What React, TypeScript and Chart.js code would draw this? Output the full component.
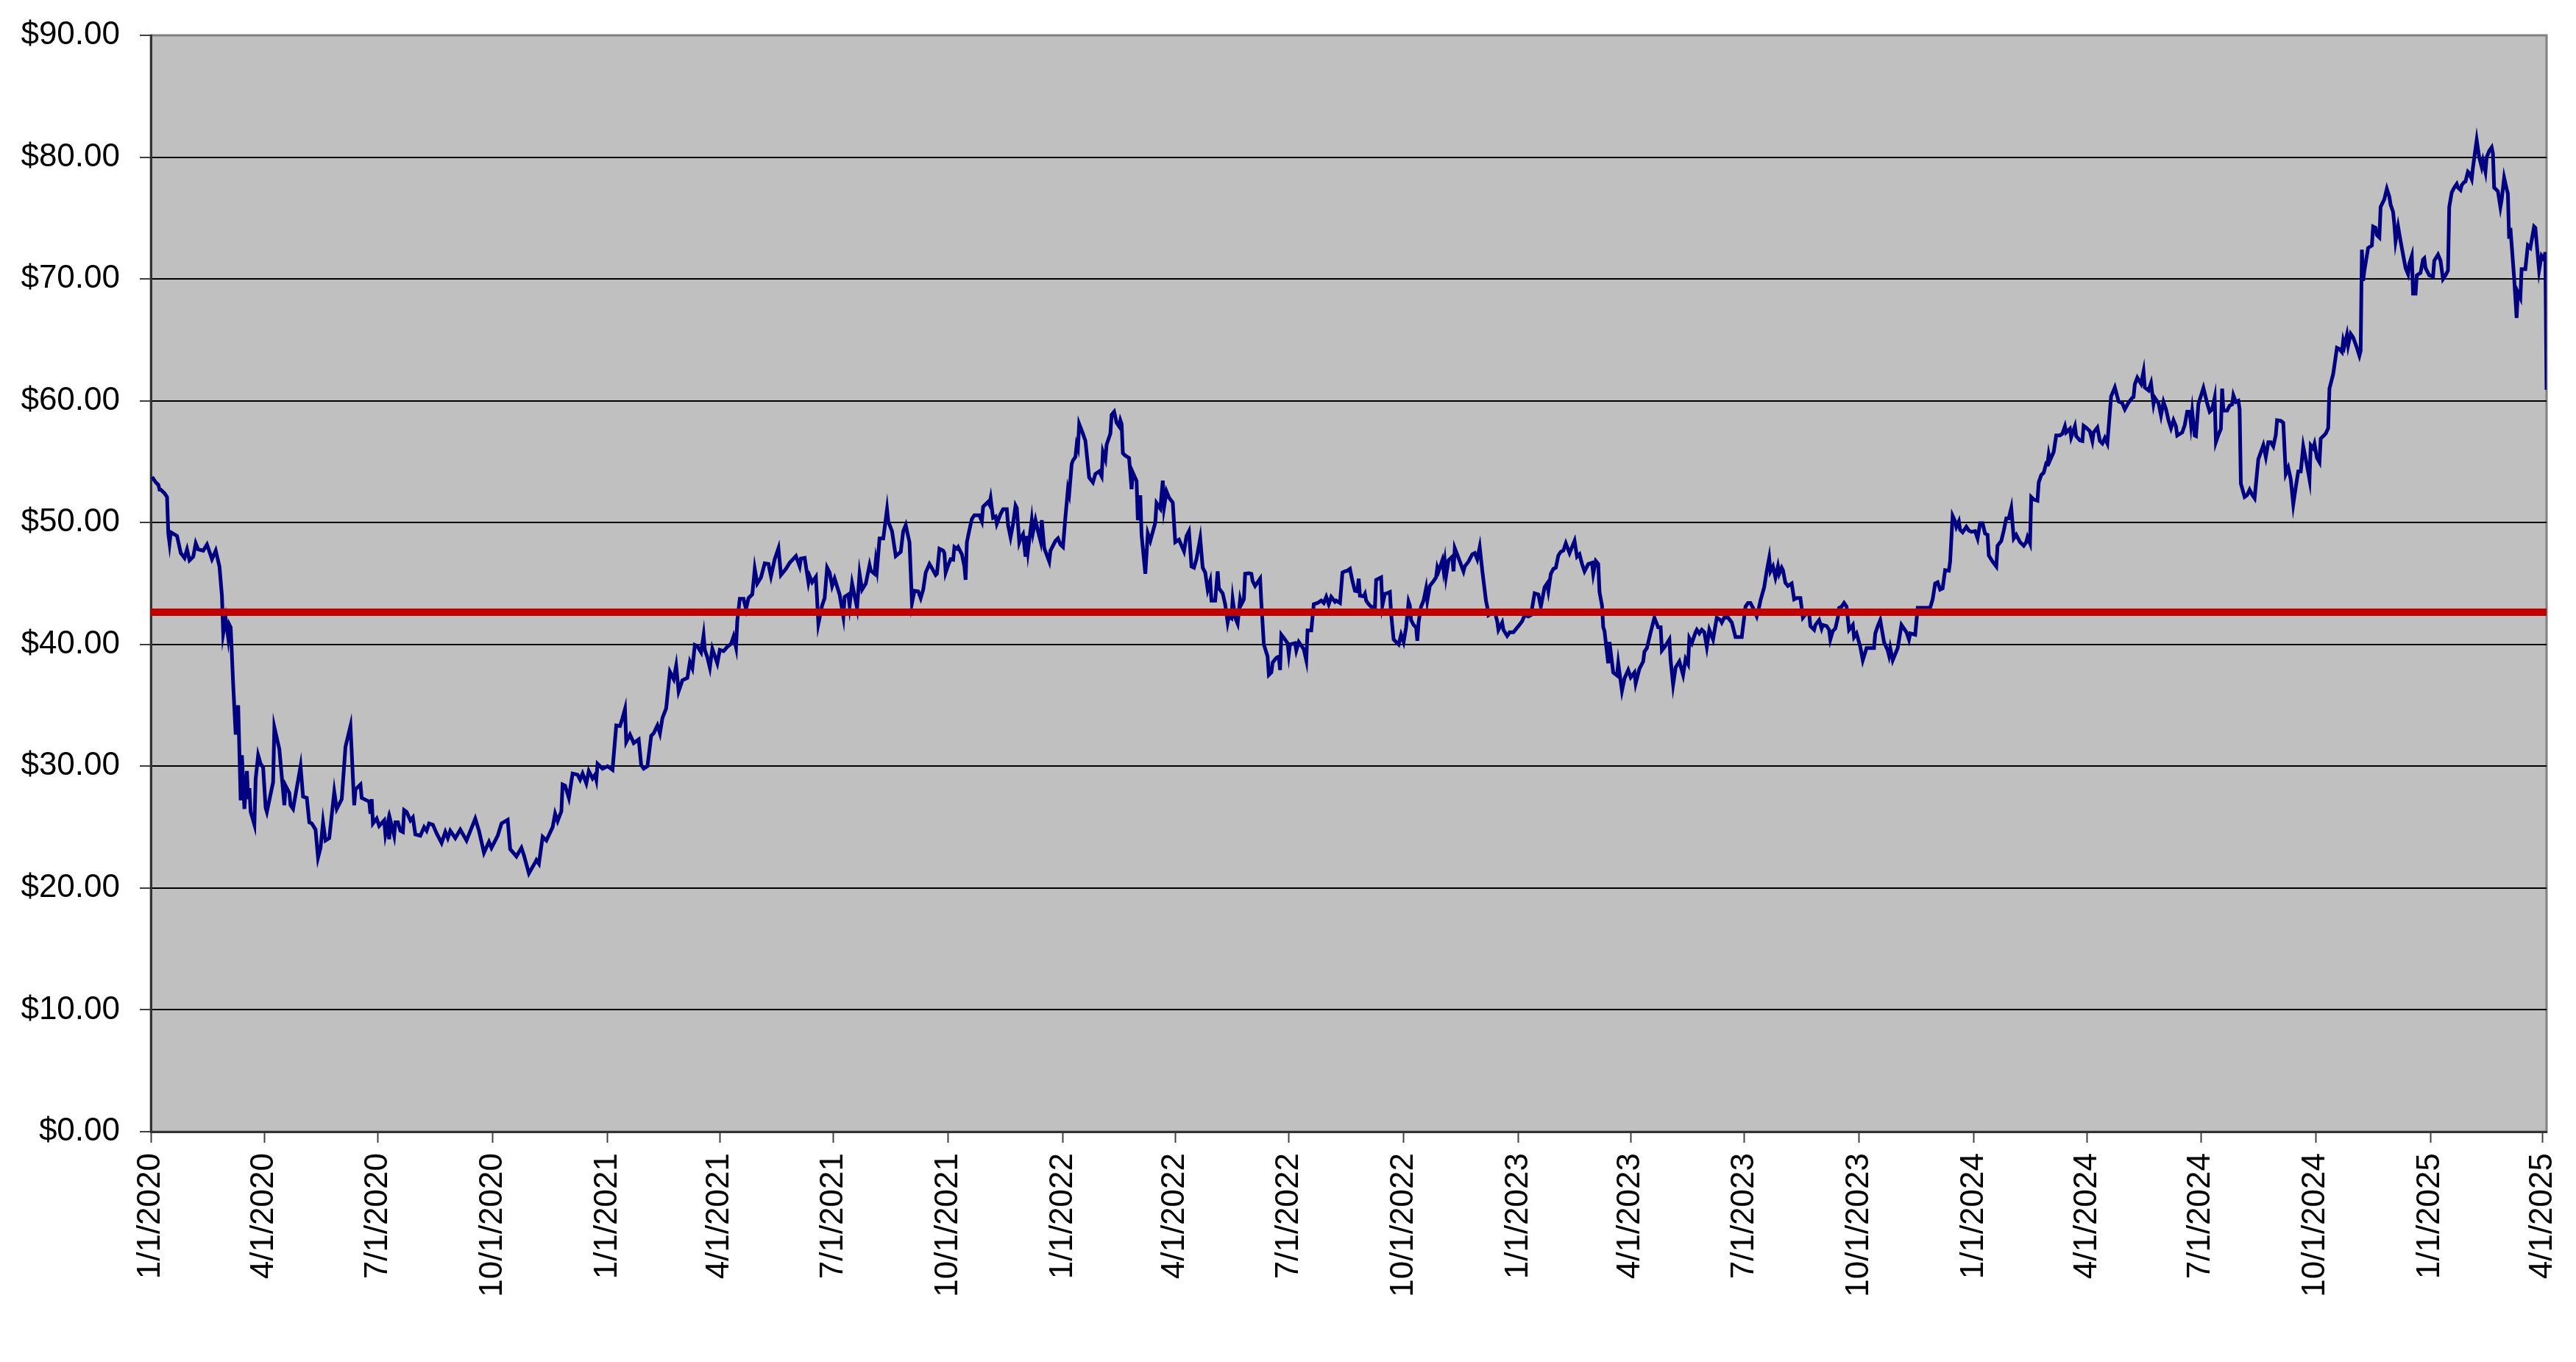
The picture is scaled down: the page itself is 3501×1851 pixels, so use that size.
import { useEffect, useRef } from 'react';
import { Chart, registerables } from 'chart.js';

Chart.register(...registerables);

const START_DATE = '1/1/2020';
const END_DATE = '4/4/2025';

const X_TICK_LABELS = [
  '1/1/2020', '4/1/2020', '7/1/2020', '10/1/2020',
  '1/1/2021', '4/1/2021', '7/1/2021', '10/1/2021',
  '1/1/2022', '4/1/2022', '7/1/2022', '10/1/2022',
  '1/1/2023', '4/1/2023', '7/1/2023', '10/1/2023',
  '1/1/2024', '4/1/2024', '7/1/2024', '10/1/2024',
  '1/1/2025', '4/1/2025',
];

const Y_MIN = 0;
const Y_MAX = 90;
const Y_STEP = 10;

const AVERAGE_PRICE = 42.65;

// [day since START_DATE, closing price]
const PRICES_2020: [number, number][] = [
  [1,53.75],[4,53.3],[6,53.1],[7,52.7],[8,52.7],[11,52.4],[13,52.1],[14,49.1],[15,48.3],[16,49.2],[21,48.9],[24,47.5],[27,47.1],[29,47.8],[31,46.9],[34,47.2],[36,48.3],[38,47.8],[42,47.7],[45,48.2],[49,47.0],[52,47.7],[55,46.4],[57,43.95],[58,40.9],[60,42.1],[62,40.55],[63,41.6],[64,41.4],[66,36.7],[68,32.6],[70,35.0],[72,27.2],[73,30.9],[75,26.5],[77,29.6],[78,27.3],[79,28.2],[80,26.25],[83,25.2],[84,28.95],[86,30.9],[88,30.2],[90,29.9],[92,26.6],[93,26.25],[98,28.7],[99,33.2],[103,31.4],[107,26.8],[108,28.4],[111,27.8],[112,26.8],[114,26.5],[120,30.0],[122,27.5],[125,27.4],[127,25.4],[129,25.3],[132,24.8],[134,22.5],[136,23.3],[138,25.4],[140,23.9],[143,24.1],[147,27.9],[149,26.5],[153,27.3],[156,31.6],[160,33.3],[163,26.8],[164,28.1],[168,28.5],[169,27.4],[175,27.1],[176,26.1],[177,27.3],[178,25.3],[181,25.7],[183,25.1],[187,25.55],[188,24.4],[190,25.4],[191,24.0],[192,25.55],[195,24.3],[196,25.4],[198,25.4],[200,24.7],[202,24.6],[203,26.4],[205,26.25],[208,25.55],[210,25.8],[212,24.4],[216,24.3],[219,25.0],[221,24.7],[223,25.3],[226,25.2],[229,24.5],[233,23.7],[236,24.6],[238,24.1],[240,24.7],[244,24.1],[248,24.8],[253,23.9],[260,25.7],[263,24.7],[267,22.9],[271,23.8],[273,23.3],[278,24.3],[281,25.3],[286,25.6],[288,23.2],[293,22.6],[297,23.3],[299,22.7],[303,21.2],[308,22.1],[309,22.3],[311,22.0],[314,24.2],[317,23.9],[322,25.0],[324,26.1],[326,25.5],[329,26.3],[330,28.5],[332,28.4],[335,27.4],[338,29.4],[342,29.3],[344,28.9],[346,29.4],[349,28.6],[351,29.6],[354,29.0],[356,29.3],[357,28.9],[358,30.2],[362,29.8],
];

const PRICES_2021: [number, number][] = [
  [366,30.0],[370,29.7],[373,33.35],[376,33.3],[378,33.95],[380,34.7],[381,32.0],[384,32.6],[387,31.9],[391,32.2],[393,30.1],[395,29.8],[398,30.0],[401,32.5],[403,32.7],[406,33.35],[408,32.7],[410,33.95],[413,34.75],[415,36.75],[416,37.75],[419,37.15],[421,38.25],[423,36.15],[426,37.05],[430,37.25],[432,38.55],[434,38.05],[436,39.95],[438,39.85],[441,39.35],[443,40.75],[444,39.55],[446,38.95],[448,38.1],[450,39.65],[454,38.45],[456,39.55],[459,39.45],[462,39.8],[465,40.05],[467,40.65],[469,39.75],[470,41.95],[472,43.75],[475,43.75],[477,42.9],[479,43.8],[482,44.1],[483,45.1],[484,46.2],[486,45.0],[489,45.5],[492,46.65],[495,46.6],[497,45.6],[500,47.0],[503,47.9],[505,45.7],[509,46.2],[512,46.7],[517,47.25],[520,46.4],[521,47.05],[524,47.1],[527,45.1],[528,45.6],[530,45.1],[533,45.55],[535,41.7],[538,43.2],[540,43.8],[542,46.3],[544,45.9],[546,44.8],[548,45.4],[552,44.1],[555,42.3],[556,43.9],[559,44.1],[560,43.2],[562,45.0],[564,44.0],[566,43.0],[568,45.8],[570,44.5],[573,45.0],[576,46.5],[577,46.05],[580,45.8],[581,46.85],[582,46.2],[584,48.7],[587,48.7],[590,51.1],[591,50.1],[594,49.3],[597,47.25],[601,47.6],[603,49.3],[605,49.8],[606,49.3],[608,48.4],[610,43.4],[612,44.4],[615,44.35],[617,43.8],[619,44.5],[621,45.9],[624,46.6],[626,46.25],[629,45.7],[630,45.8],[632,47.85],[635,47.7],[636,47.5],[637,45.9],[639,46.5],[641,47.0],[643,46.95],[644,48.0],[646,47.85],[647,48.0],[650,47.4],[652,46.4],[653,45.3],[654,48.4],[656,49.4],[658,50.3],[660,50.6],[664,50.6],[666,50.1],[667,51.3],[669,51.5],[671,51.7],[672,51.5],[673,52.0],[675,50.4],[677,50.5],[678,49.9],[681,50.7],[683,51.1],[686,51.1],[687,49.8],[689,48.8],[691,49.9],[693,51.4],[694,51.2],[696,48.4],[697,48.7],[699,49.05],[701,47.2],[702,48.9],[703,47.7],[706,50.2],[707,49.2],[709,50.2],[711,49.3],[713,48.5],[714,50.2],[716,47.9],[720,46.8],[721,47.7],[725,48.5],[727,48.7],[729,48.2],
];

const PRICES_2022: [number, number][] = [
  [731,48.0],[733,50.5],[735,52.75],[736,52.35],[738,54.8],[739,55.1],[741,55.4],[742,56.4],[743,56.1],[744,58.1],[747,57.3],[749,56.7],[752,53.7],[755,53.3],[757,54.0],[760,54.2],[762,53.8],[763,55.8],[765,55.2],[766,56.4],[769,57.3],[770,58.85],[772,59.1],[774,58.2],[776,57.9],[777,58.4],[778,58.1],[779,55.7],[781,55.5],[784,55.3],[786,52.75],[787,54.1],[790,53.4],[791,50.2],[793,52.25],[794,49.0],[797,45.8],[799,49.1],[801,48.5],[805,50.0],[806,51.6],[809,51.15],[811,53.45],[812,51.25],[814,52.55],[816,52.05],[819,51.65],[821,48.4],[824,48.6],[828,47.65],[830,48.9],[832,49.3],[834,46.4],[836,46.3],[838,47.0],[841,48.7],[843,46.3],[845,45.9],[846,45.2],[847,44.5],[849,45.2],[850,43.6],[853,43.6],[855,46.0],[856,44.6],[859,44.2],[861,43.3],[863,41.8],[864,42.3],[866,42.15],[867,43.7],[869,42.2],[871,41.7],[873,43.7],[874,43.3],[876,43.7],[877,45.8],[880,45.85],[882,45.8],[883,45.2],[885,44.8],[887,45.1],[889,45.4],[890,43.4],[892,40.0],[895,39.0],[896,37.5],[898,37.7],[899,38.5],[902,38.9],[904,39.0],[905,37.9],[906,40.8],[909,40.4],[911,40.1],[912,39.2],[913,40.0],[917,40.1],[918,39.5],[920,40.2],[924,39.6],[926,38.7],[927,41.15],[930,41.15],[932,43.3],[935,43.4],[938,43.6],[940,43.4],[942,43.9],[944,43.3],[946,43.9],[949,43.5],[950,43.6],[953,43.4],[955,45.9],[957,46.0],[959,46.05],[961,46.2],[963,45.2],[965,44.4],[967,44.35],[968,45.4],[969,44.0],[972,43.95],[973,44.15],[974,43.6],[976,43.3],[978,43.1],[981,43.0],[982,45.3],[986,45.5],[987,43.2],[989,44.15],[991,44.2],[993,44.3],[994,42.5],[996,40.4],[1000,40.0],[1002,40.8],[1004,40.2],[1006,41.4],[1008,43.5],[1009,43.2],[1010,42.0],[1012,41.6],[1014,41.4],[1015,40.3],[1016,41.8],[1018,43.1],[1020,43.6],[1022,44.6],[1023,43.6],[1025,44.8],[1028,45.2],[1030,45.5],[1031,46.3],[1032,46.0],[1035,46.9],[1036,46.1],[1037,46.8],[1038,45.6],[1040,46.9],[1043,47.2],[1044,46.0],[1045,47.9],[1048,47.1],[1052,46.0],[1053,46.4],[1056,46.8],[1059,47.4],[1061,47.5],[1063,47.0],[1065,48.0],[1067,46.1],[1070,43.6],[1071,43.1],[1072,42.4],[1075,42.6],[1077,42.7],[1079,41.9],[1080,41.2],[1083,41.8],[1084,41.2],[1087,40.7],[1089,41.0],[1092,41.0],
];

const PRICES_2023: [number, number][] = [
  [1096,41.5],[1099,41.9],[1101,42.4],[1104,42.3],[1106,42.4],[1109,44.2],[1112,44.1],[1114,43.1],[1117,44.7],[1119,45.0],[1120,44.4],[1122,45.8],[1124,46.2],[1126,46.3],[1128,47.3],[1130,47.6],[1132,47.7],[1134,48.3],[1137,47.5],[1139,48.0],[1141,48.5],[1143,47.2],[1145,47.4],[1147,46.6],[1149,46.0],[1152,46.6],[1155,46.7],[1156,45.8],[1158,46.85],[1160,46.6],[1161,44.3],[1163,43.2],[1164,41.4],[1165,41.1],[1168,38.45],[1169,40.2],[1172,37.7],[1175,37.45],[1176,38.45],[1179,36.2],[1181,37.2],[1184,37.9],[1186,37.3],[1189,37.7],[1190,36.8],[1193,38.0],[1196,38.6],[1197,39.4],[1199,39.7],[1202,41.0],[1205,42.2],[1208,41.4],[1210,41.4],[1211,39.5],[1214,39.9],[1217,40.4],[1218,38.7],[1220,36.7],[1222,38.1],[1225,38.6],[1228,37.5],[1230,38.8],[1232,38.4],[1233,40.5],[1235,40.1],[1238,41.0],[1239,41.2],[1241,40.9],[1243,41.2],[1245,41.0],[1247,39.8],[1249,41.2],[1252,40.4],[1255,42.2],[1258,42.0],[1259,41.8],[1261,42.2],[1264,42.2],[1267,41.8],[1270,40.6],[1272,40.6],[1275,40.6],[1278,43.1],[1280,43.4],[1282,43.4],[1284,43.0],[1287,42.3],[1289,43.1],[1290,43.6],[1293,44.7],[1295,46.0],[1297,47.1],[1298,46.0],[1300,46.4],[1302,45.5],[1304,46.4],[1305,45.8],[1307,46.3],[1308,46.1],[1310,45.05],[1312,44.8],[1315,45.0],[1317,43.7],[1319,43.8],[1322,43.8],[1324,42.2],[1327,42.6],[1329,42.6],[1330,41.5],[1333,41.2],[1334,41.6],[1337,42.0],[1339,41.3],[1340,41.6],[1343,41.5],[1345,41.2],[1346,40.4],[1348,41.1],[1350,41.3],[1352,42.2],[1353,43.0],[1355,43.1],[1357,43.4],[1359,43.1],[1361,41.2],[1364,41.6],[1365,40.6],[1367,40.9],[1370,39.8],[1372,38.7],[1375,39.7],[1379,39.7],[1381,39.7],[1382,40.9],[1384,41.5],[1386,42.0],[1389,40.2],[1392,39.5],[1393,39.1],[1394,39.7],[1396,38.7],[1398,39.2],[1400,39.7],[1403,41.6],[1405,41.3],[1407,41.0],[1409,40.4],[1410,40.9],[1414,40.8],[1416,43.0],[1418,43.0],[1422,43.0],[1426,43.0],[1428,43.7],[1430,45.0],[1432,45.1],[1434,44.5],[1436,44.6],[1438,46.1],[1441,46.05],[1442,46.8],[1444,50.55],[1446,50.1],[1447,49.65],[1449,50.1],[1450,49.4],[1452,49.2],[1455,49.65],[1457,49.35],[1459,49.25],
];

const PRICES_2024: [number, number][] = [
  [1462,49.3],[1464,48.7],[1466,49.95],[1468,49.95],[1470,49.1],[1472,49.0],[1473,47.3],[1476,46.8],[1479,46.4],[1480,48.1],[1483,48.5],[1485,49.35],[1487,50.35],[1489,50.35],[1491,51.2],[1493,48.7],[1495,49.0],[1498,48.4],[1501,48.1],[1503,48.4],[1504,48.8],[1506,48.3],[1507,52.1],[1509,51.9],[1512,51.8],[1513,53.3],[1515,53.9],[1517,54.1],[1519,54.85],[1520,54.8],[1521,55.6],[1522,55.1],[1525,55.8],[1527,57.15],[1530,57.15],[1532,57.3],[1534,57.9],[1535,57.4],[1538,57.7],[1539,57.0],[1542,57.9],[1543,57.1],[1546,56.75],[1548,56.7],[1549,57.95],[1551,57.8],[1554,57.5],[1556,56.7],[1557,57.4],[1560,57.8],[1562,56.7],[1564,56.5],[1566,56.95],[1568,56.5],[1571,60.35],[1574,61.1],[1577,59.95],[1580,59.8],[1582,59.3],[1585,59.85],[1588,60.25],[1589,60.3],[1590,61.35],[1592,61.9],[1595,61.4],[1597,62.4],[1598,61.1],[1601,60.85],[1603,61.45],[1605,59.75],[1606,60.25],[1609,59.8],[1611,58.8],[1613,59.9],[1615,59.3],[1617,58.4],[1619,57.75],[1621,58.4],[1623,57.9],[1624,57.15],[1628,57.4],[1630,58.0],[1632,59.1],[1634,59.1],[1635,58.1],[1636,59.1],[1638,57.15],[1639,57.1],[1641,59.75],[1645,61.05],[1648,59.8],[1650,59.1],[1652,59.3],[1654,60.25],[1655,56.6],[1657,57.2],[1659,57.7],[1660,61.0],[1661,59.2],[1664,59.2],[1666,59.6],[1668,59.7],[1669,60.45],[1671,59.9],[1673,60.0],[1674,59.3],[1675,53.2],[1678,52.1],[1680,52.25],[1682,52.7],[1684,52.3],[1686,52.0],[1689,55.2],[1693,56.35],[1695,55.4],[1697,56.6],[1699,56.6],[1701,56.25],[1703,57.2],[1704,58.4],[1707,58.35],[1709,58.2],[1711,54.0],[1713,54.5],[1715,53.55],[1717,51.5],[1719,52.9],[1721,54.2],[1723,54.2],[1725,56.25],[1728,54.7],[1730,53.55],[1731,56.35],[1733,56.1],[1734,56.45],[1736,55.3],[1738,54.95],[1739,56.9],[1741,57.1],[1743,57.3],[1745,57.75],[1746,61.0],[1749,62.2],[1752,64.35],[1754,64.25],[1756,64.0],[1757,64.9],[1758,64.5],[1760,65.4],[1761,64.55],[1763,65.5],[1765,65.2],[1768,64.35],[1770,63.7],[1771,64.1],[1772,72.4],[1773,69.85],[1774,70.7],[1777,72.55],[1780,72.75],[1781,74.3],[1783,74.2],[1784,73.6],[1786,73.4],[1787,75.9],[1790,76.55],[1792,77.4],[1794,76.75],[1795,76.1],[1797,75.5],[1798,74.5],[1799,73.1],[1801,74.3],[1803,73.1],[1805,72.0],[1807,70.9],[1809,70.4],[1810,71.25],[1812,71.9],[1813,68.8],[1815,68.8],[1816,70.3],[1819,70.5],[1821,71.6],[1822,71.7],[1823,70.9],[1826,70.3],
];

const PRICES_2025: [number, number][] = [
  [1829,70.2],[1830,71.5],[1833,72.0],[1835,71.5],[1837,70.0],[1839,70.3],[1841,70.7],[1842,75.9],[1844,77.1],[1846,77.5],[1848,77.8],[1849,77.5],[1851,77.3],[1852,77.7],[1854,77.95],[1855,78.0],[1857,78.8],[1858,78.7],[1860,78.2],[1861,79.15],[1864,81.4],[1866,80.0],[1868,79.2],[1869,79.7],[1871,78.8],[1872,80.0],[1874,80.5],[1876,80.8],[1877,80.3],[1878,77.5],[1881,77.2],[1883,75.9],[1884,76.5],[1886,78.3],[1888,77.4],[1889,77.0],[1890,73.3],[1891,74.2],[1894,70.1],[1896,66.8],[1897,68.9],[1899,68.45],[1900,70.8],[1903,70.8],[1905,72.75],[1907,72.55],[1910,74.3],[1911,74.2],[1914,70.7],[1916,71.9],[1918,71.6],[1919,72.2],[1920,60.9],
];

const FONT_FAMILY = '"Liberation Sans", Arial, sans-serif';

function toDay(label: string): number {
  const [m, d, y] = label.split('/').map(Number);
  const [m0, d0, y0] = START_DATE.split('/').map(Number);
  return Math.round((Date.UTC(y, m - 1, d) - Date.UTC(y0, m0 - 1, d0)) / 86400000);
}

export default function App() {
  const canvasRef = useRef<HTMLCanvasElement | null>(null);

  useEffect(() => {
    const canvas = canvasRef.current;
    if (!canvas) return;

    const series = [
      ...PRICES_2020, ...PRICES_2021, ...PRICES_2022,
      ...PRICES_2023, ...PRICES_2024, ...PRICES_2025,
    ].map(([x, y]) => ({ x, y }));
    const endDay = toDay(END_DATE);
    const tickDays = X_TICK_LABELS.map(toDay);

    const plotBackground = {
      id: 'plotBackground',
      beforeDraw(chart: any) {
        const { ctx, chartArea: a } = chart;
        ctx.save();
        ctx.fillStyle = '#C0C0C0';
        ctx.fillRect(a.left, a.top, a.right - a.left, a.bottom - a.top);
        ctx.strokeStyle = '#808080';
        ctx.lineWidth = 3;
        ctx.strokeRect(a.left, a.top, a.right - a.left, a.bottom - a.top);
        ctx.restore();
      },
    };

    const chart = new Chart(canvas, {
      type: 'line',
      data: {
        datasets: [
          {
            label: 'Average',
            data: [
              { x: 0, y: AVERAGE_PRICE },
              { x: endDay, y: AVERAGE_PRICE },
            ],
            borderColor: '#C00000',
            borderWidth: 10,
            pointRadius: 0,
            order: 0,
          },
          {
            label: 'Price',
            data: series,
            borderColor: '#000080',
            borderWidth: 5,
            pointRadius: 0,
            tension: 0,
            order: 1,
          },
        ],
      },
      options: {
        animation: false,
        responsive: false,
        devicePixelRatio: 1,
        layout: { padding: { top: 48, right: 40, left: 0, bottom: 0 } },
        plugins: {
          legend: { display: false },
          tooltip: { enabled: false },
        },
        scales: {
          x: {
            type: 'linear',
            min: 0,
            max: endDay,
            afterBuildTicks: (axis: any) => {
              axis.ticks = tickDays.map((v) => ({ value: v }));
            },
            afterFit: (axis: any) => {
              axis.height = 313;
              axis.paddingLeft = 0;
              axis.paddingRight = 0;
            },
            ticks: {
              autoSkip: false,
              minRotation: 90,
              maxRotation: 90,
              padding: 14,
              color: '#000',
              font: { family: FONT_FAMILY, size: 44 },
              callback: (v: any) => {
                const i = tickDays.indexOf(Number(v));
                return i >= 0 ? X_TICK_LABELS[i] : '';
              },
            },
            grid: {
              drawOnChartArea: false,
              drawTicks: true,
              tickLength: 15,
              tickColor: '#404040',
              tickWidth: 2,
            },
            border: { display: true, color: '#333', width: 3 },
          },
          y: {
            type: 'linear',
            min: Y_MIN,
            max: Y_MAX,
            afterFit: (axis: any) => {
              axis.width = 205;
              axis.paddingTop = 0;
              axis.paddingBottom = 0;
            },
            ticks: {
              stepSize: Y_STEP,
              padding: 27,
              color: '#000',
              font: { family: FONT_FAMILY, size: 44 },
              callback: (v: any) => '$' + Number(v).toFixed(2),
            },
            grid: {
              color: (c: any) =>
                c.tick && c.tick.value === Y_MAX ? 'rgba(0,0,0,0)' : '#000',
              lineWidth: 2,
              drawTicks: true,
              tickLength: 15,
              tickColor: '#404040',
              tickWidth: 2,
            },
            border: { display: true, color: '#333', width: 3 },
          },
        },
      },
      plugins: [plotBackground],
    });

    return () => chart.destroy();
  }, []);

  return (
    <div
      style={{
        position: 'fixed',
        left: 0,
        top: 0,
        width: 3501,
        height: 1851,
        background: '#fff',
        overflow: 'hidden',
      }}
    >
      <canvas
        ref={canvasRef}
        width={3501}
        height={1851}
        style={{ width: 3501, height: 1851, display: 'block' }}
      />
    </div>
  );
}
